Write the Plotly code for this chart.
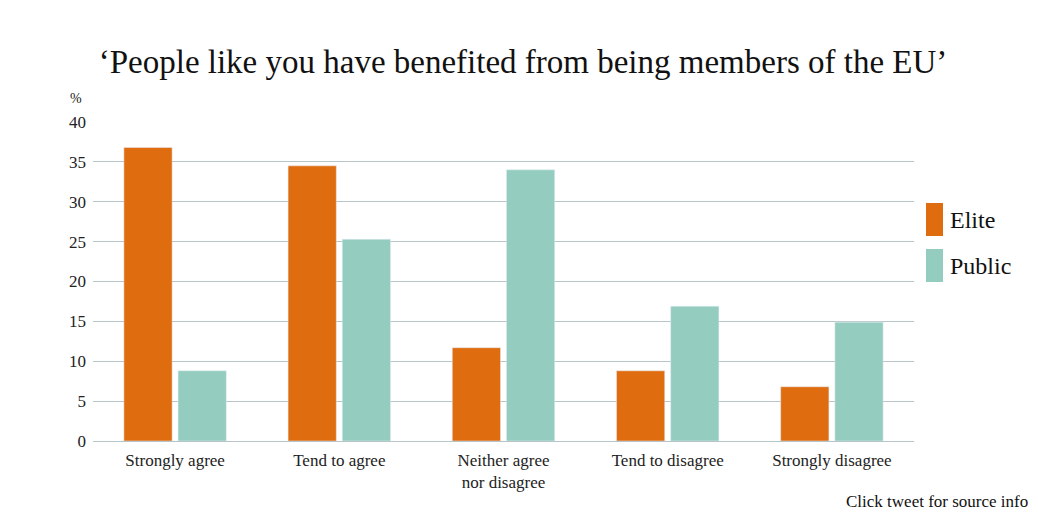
import plotly.graph_objects as go

categorias = ["Strongly agree", "Tend to agree", "Neither agree<br>nor disagree",
              "Tend to disagree", "Strongly disagree"]
elite = [36.8, 34.5, 11.7, 8.8, 6.8]
public = [8.8, 25.3, 34.0, 16.9, 14.9]
ticks_y = [0, 5, 10, 15, 20, 25, 30, 35, 40]

NARANJA = "#E06C10"
VERDE = "#94CDBF"
FUENTE = "Liberation Serif"

# la pagina deja 8px de margen en el body, asi que el lienzo va en 1030x511
ANCHO, ALTO = 1030, 511
IZQ, ARR = 85, 114
ANCHO_PLOT, ALTO_PLOT = 821, 319


def px_x(x):
    return (x - 8 - IZQ) / ANCHO_PLOT


def px_y(y):
    return (ARR + ALTO_PLOT - (y - 8)) / ALTO_PLOT


fig = go.Figure()
fig.add_trace(go.Bar(x=categorias, y=elite, name="Elite", marker_color=NARANJA))
fig.add_trace(go.Bar(x=categorias, y=public, name="Public", marker_color=VERDE))

fig.update_layout(
    width=ANCHO,
    height=ALTO,
    paper_bgcolor="white",
    plot_bgcolor="white",
    margin=dict(l=IZQ, r=ANCHO - IZQ - ANCHO_PLOT, t=ARR, b=ALTO - ARR - ALTO_PLOT),
    barmode="group",
    bargap=0.34,
    bargroupgap=0.11,
    showlegend=False,
    font=dict(family=FUENTE, color="#222222"),
    title=dict(
        text="‘People like you have benefited from being members of the EU’",
        x=0.5, xanchor="center", y=1 - 53 / ALTO, yanchor="middle",
        font=dict(family=FUENTE, size=33, color="#111111"),
    ),
)

fig.update_xaxes(
    showgrid=False, showline=False, ticks="",
    tickfont=dict(family=FUENTE, size=17, color="#222222"),
    ticklabelstandoff=7,
)
fig.update_yaxes(
    range=[0, 40], tickvals=ticks_y, showgrid=True, gridcolor="#B7C4C8",
    gridwidth=1, zeroline=True, zerolinecolor="#B7C4C8", zerolinewidth=1,
    tickfont=dict(family=FUENTE, size=17, color="#222222"), ticks="",
    ticklabelstandoff=6,
)

# leyenda dibujada a mano
for i, (nombre, color) in enumerate([("Elite", NARANJA), ("Public", VERDE)]):
    y0 = 203 + i * 46
    fig.add_shape(type="rect", xref="paper", yref="paper",
                  x0=px_x(926), x1=px_x(943),
                  y0=px_y(y0 + 33), y1=px_y(y0),
                  fillcolor=color, line_width=0)
    fig.add_annotation(text=nombre, xref="paper", yref="paper",
                       x=px_x(948), y=px_y(y0 + 17),
                       xanchor="left", yanchor="middle", showarrow=False,
                       font=dict(family=FUENTE, size=24, color="#111111"))

fig.add_annotation(text="%", xref="paper", yref="paper", x=px_x(84),
                   y=px_y(98), xanchor="right", yanchor="middle",
                   showarrow=False, font=dict(family=FUENTE, size=14, color="#222222"))
fig.add_annotation(text="Click tweet for source info", xref="paper", yref="paper",
                   x=px_x(1030), y=px_y(501), xanchor="right",
                   yanchor="middle", showarrow=False,
                   font=dict(family=FUENTE, size=17, color="#111111"))

fig.write_html("out.html")
